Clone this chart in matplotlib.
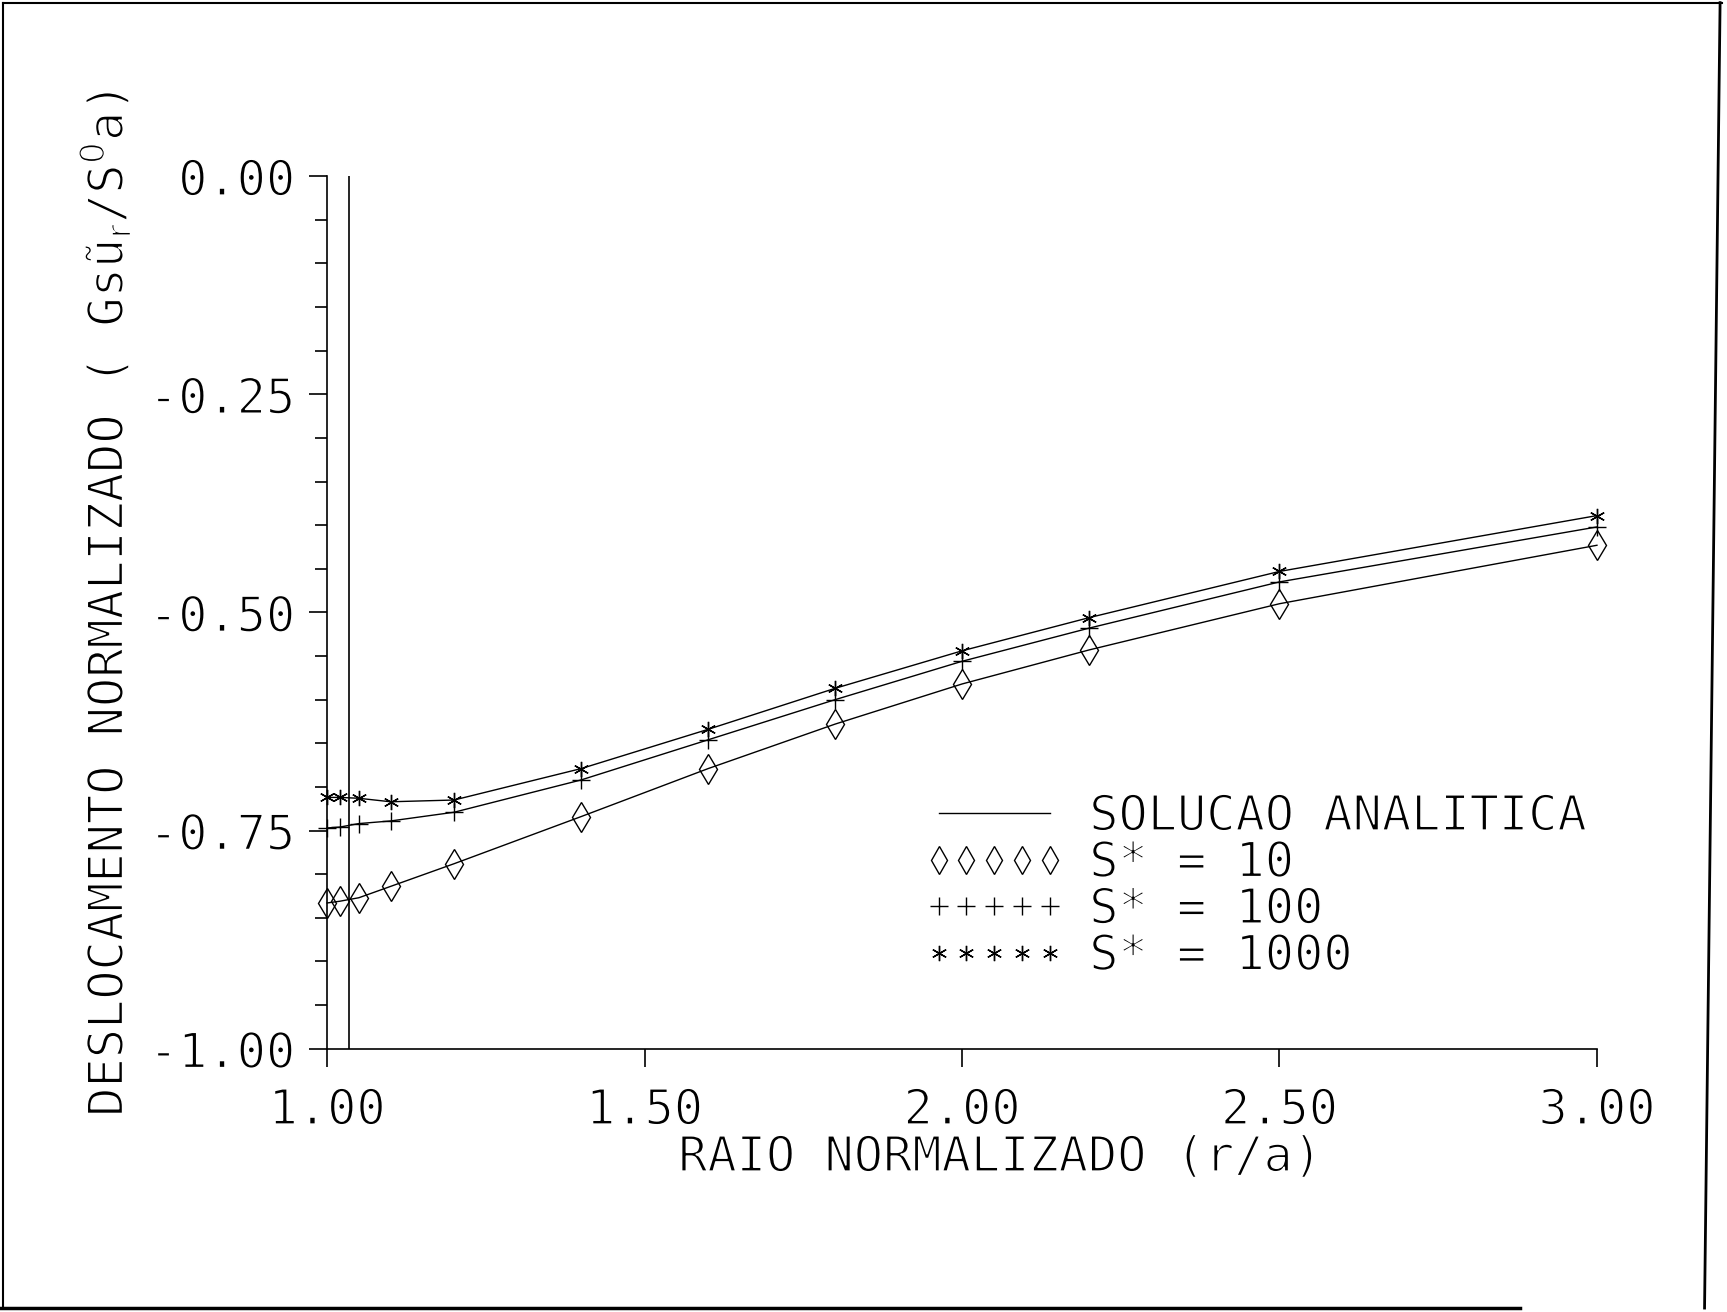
import matplotlib
matplotlib.use("Agg")
import matplotlib.pyplot as plt
import matplotlib.patheffects as pe
from matplotlib.lines import Line2D
from matplotlib.ticker import MultipleLocator, FormatStrFormatter

plt.rcParams['font.family'] = ['DejaVu Sans Mono', 'DejaVu Sans']
plt.rcParams['mathtext.fontset'] = 'dejavusans'

# raio normalizado r/a
raio = [1.00, 1.02, 1.05, 1.10, 1.20, 1.40, 1.60, 1.80, 2.00, 2.20, 2.50, 3.00]

# deslocamento normalizado para cada S*
s10 = [-0.833, -0.831, -0.827, -0.814, -0.788, -0.734, -0.679, -0.628, -0.582, -0.543, -0.490, -0.423]
s100 = [-0.747, -0.746, -0.742, -0.739, -0.729, -0.692, -0.646, -0.600, -0.556, -0.518, -0.465, -0.402]
s1000 = [-0.712, -0.712, -0.713, -0.717, -0.715, -0.679, -0.634, -0.587, -0.544, -0.506, -0.453, -0.389]

# linha vertical perto de r/a = 1
r_ref = 1.035

x_ticks = [1.0, 1.5, 2.0, 2.5, 3.0]

# afina o traco do texto (parecido com a plotter)
thin = [pe.Stroke(linewidth=1.2, foreground='white')]

fig = plt.figure(figsize=(17.27, 13.12), dpi=100)
ax = fig.add_axes([0.1894, 0.2007, 0.7353, 0.6650])

fs = 35

# curvas analiticas
for s in (s10, s100, s1000):
    ax.plot(raio, s, color='black', lw=1.0, clip_on=False)

ax.plot(raio, s10, ls='none', marker='d', ms=15, mfc='none', mec='black', mew=1.0, clip_on=False)
ax.plot(raio, s100, ls='none', marker='+', ms=13, mec='black', mew=1.0, clip_on=False)
ax.plot(raio, s1000, ls='none', marker=(6, 2, 0), ms=11, mec='black', mew=1.0, clip_on=False)

ax.axvline(r_ref, color='black', lw=1.2)

ax.set_xlim(1.0, 3.0)
ax.set_ylim(-1.0, 0.0)
ax.set_xticks(x_ticks)
ax.yaxis.set_major_locator(MultipleLocator(0.25))
ax.yaxis.set_minor_locator(MultipleLocator(0.05))
ax.xaxis.set_major_formatter(FormatStrFormatter('%.2f'))
ax.yaxis.set_major_formatter(FormatStrFormatter('%.2f'))

for sp in ('top', 'right'):
    ax.spines[sp].set_visible(False)
for sp in ('left', 'bottom'):
    ax.spines[sp].set_linewidth(1.2)

ax.tick_params(axis='both', which='major', direction='out', length=13, width=1.2,
               labelsize=fs, pad=10)
ax.tick_params(axis='x', which='major', pad=14)
ax.tick_params(axis='y', which='minor', direction='out', length=9, width=1.2)
for lab in ax.get_xticklabels() + ax.get_yticklabels():
    lab.set_path_effects(thin)

fig.text(0.579, 0.118, 'RAIO NORMALIZADO (r/a)', fontsize=fs, ha='center', va='center',
         path_effects=thin)
fig.text(0.0606, 0.540, r'DESLOCAMENTO NORMALIZADO ( Gsũ$_\mathrm{r}$/S$^0$a)',
         fontsize=fs, rotation=90, ha='center', va='center', path_effects=thin)

handles = [
    Line2D([], [], color='black', lw=1.0),
    Line2D([], [], ls='none', marker='d', ms=14, mfc='none', mec='black', mew=1.0),
    Line2D([], [], ls='none', marker='+', ms=13, mec='black', mew=1.0),
    Line2D([], [], ls='none', marker=(6, 2, 0), ms=11, mec='black', mew=1.0),
]
labels = ['SOLUCAO ANALITICA', 'S* = 10', 'S* = 100', 'S* = 1000']
leg = ax.legend(handles, labels, loc='upper left', bbox_to_anchor=(0.470, 0.294),
                frameon=False, fontsize=fs, numpoints=5, handlelength=2.9,
                handletextpad=0.5, labelspacing=-0.03, borderpad=0, borderaxespad=0)
for t in leg.get_texts():
    t.set_path_effects(thin)

# moldura da pagina
border = dict(color='black', transform=fig.transFigure)
fig.add_artist(Line2D([0.002, 0.997], [0.998, 0.998], lw=1.5, **border))
fig.add_artist(Line2D([0.002, 0.002], [0.998, 0.003], lw=1.5, **border))
fig.add_artist(Line2D([0.996, 0.987], [0.998, 0.003], lw=2.0, **border))
fig.add_artist(Line2D([0.0, 0.88], [0.003, 0.003], lw=2.5, **border))

fig.savefig('out.png', dpi=100)
